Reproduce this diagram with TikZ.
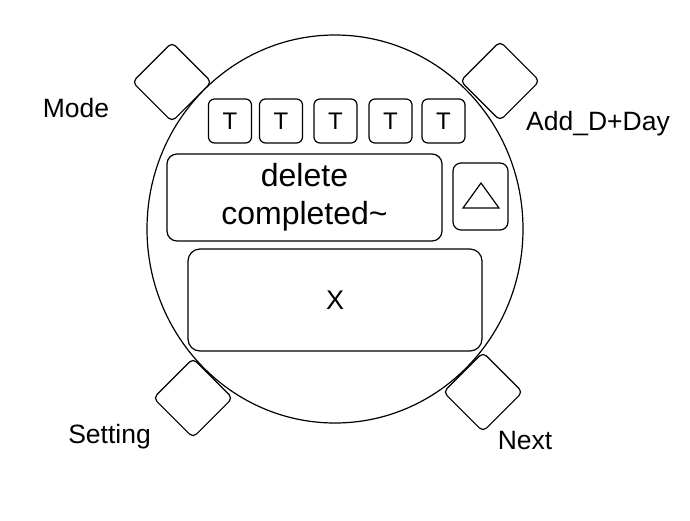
\documentclass[tikz,border=0pt]{standalone}
\usepackage{fontspec}
\setmainfont{Liberation Sans}
\usetikzlibrary{shapes.geometric}
\begin{document}
\begin{tikzpicture}[x=1pt,y=-1pt,line width=1.2pt,
knob/.style={draw, rounded corners=5pt, rotate=45,
minimum size=56pt, inner sep=0pt},
lbl/.style={anchor=base, font=\fontsize{26.5}{30}\selectfont},
tbox/.style={draw, rounded corners=6pt, minimum width=43pt,
minimum height=44pt, inner sep=0pt, font=\fontsize{24}{26}\selectfont},
screen/.style={draw, inner sep=0pt, align=center}]
\useasboundingbox (0,0) rectangle (690,520);
\node[knob] (mode) at (172,82) {};
\node[knob] (add) at (500,81) {};
\node[knob] (set) at (193,398) {};
\node[knob] (next) at (483,392) {};
\node[draw, ellipse, fill=white, inner sep=0pt, minimum width=376pt,
minimum height=388pt] (face) at (335,229) {};
\node[lbl] (lmode) at (76,117) {Mode};
\node[lbl] (ladd) at (598,130) {Add\_D+Day};
\node[lbl] (lset) at (109.5,443) {Setting};
\node[lbl] (lnext) at (525,449) {Next};
\node[tbox] (t1) at (230,121) {T};
\node[tbox] (t2) at (281,121) {T};
\node[tbox] (t3) at (335.5,121) {T};
\node[tbox] (t4) at (390.5,121) {T};
\node[tbox] (t5) at (443.5,121) {T};
\node[screen, rounded corners=10pt, minimum width=275pt, minimum height=87pt,
font=\fontsize{32}{37.7}\selectfont] (msg) at (304.5,197.5)
{delete\\completed\textasciitilde};
\node[screen, rounded corners=8pt, minimum width=55pt,
minimum height=67pt] (up) at (480.5,196.5) {};
\draw (481,183) -- (499,208) -- (463,208) -- cycle;
\node[screen, rounded corners=12pt, minimum width=294pt, minimum height=102pt,
font=\fontsize{27}{30}\selectfont] (val) at (335,300) {X};
\end{tikzpicture}
\end{document}
